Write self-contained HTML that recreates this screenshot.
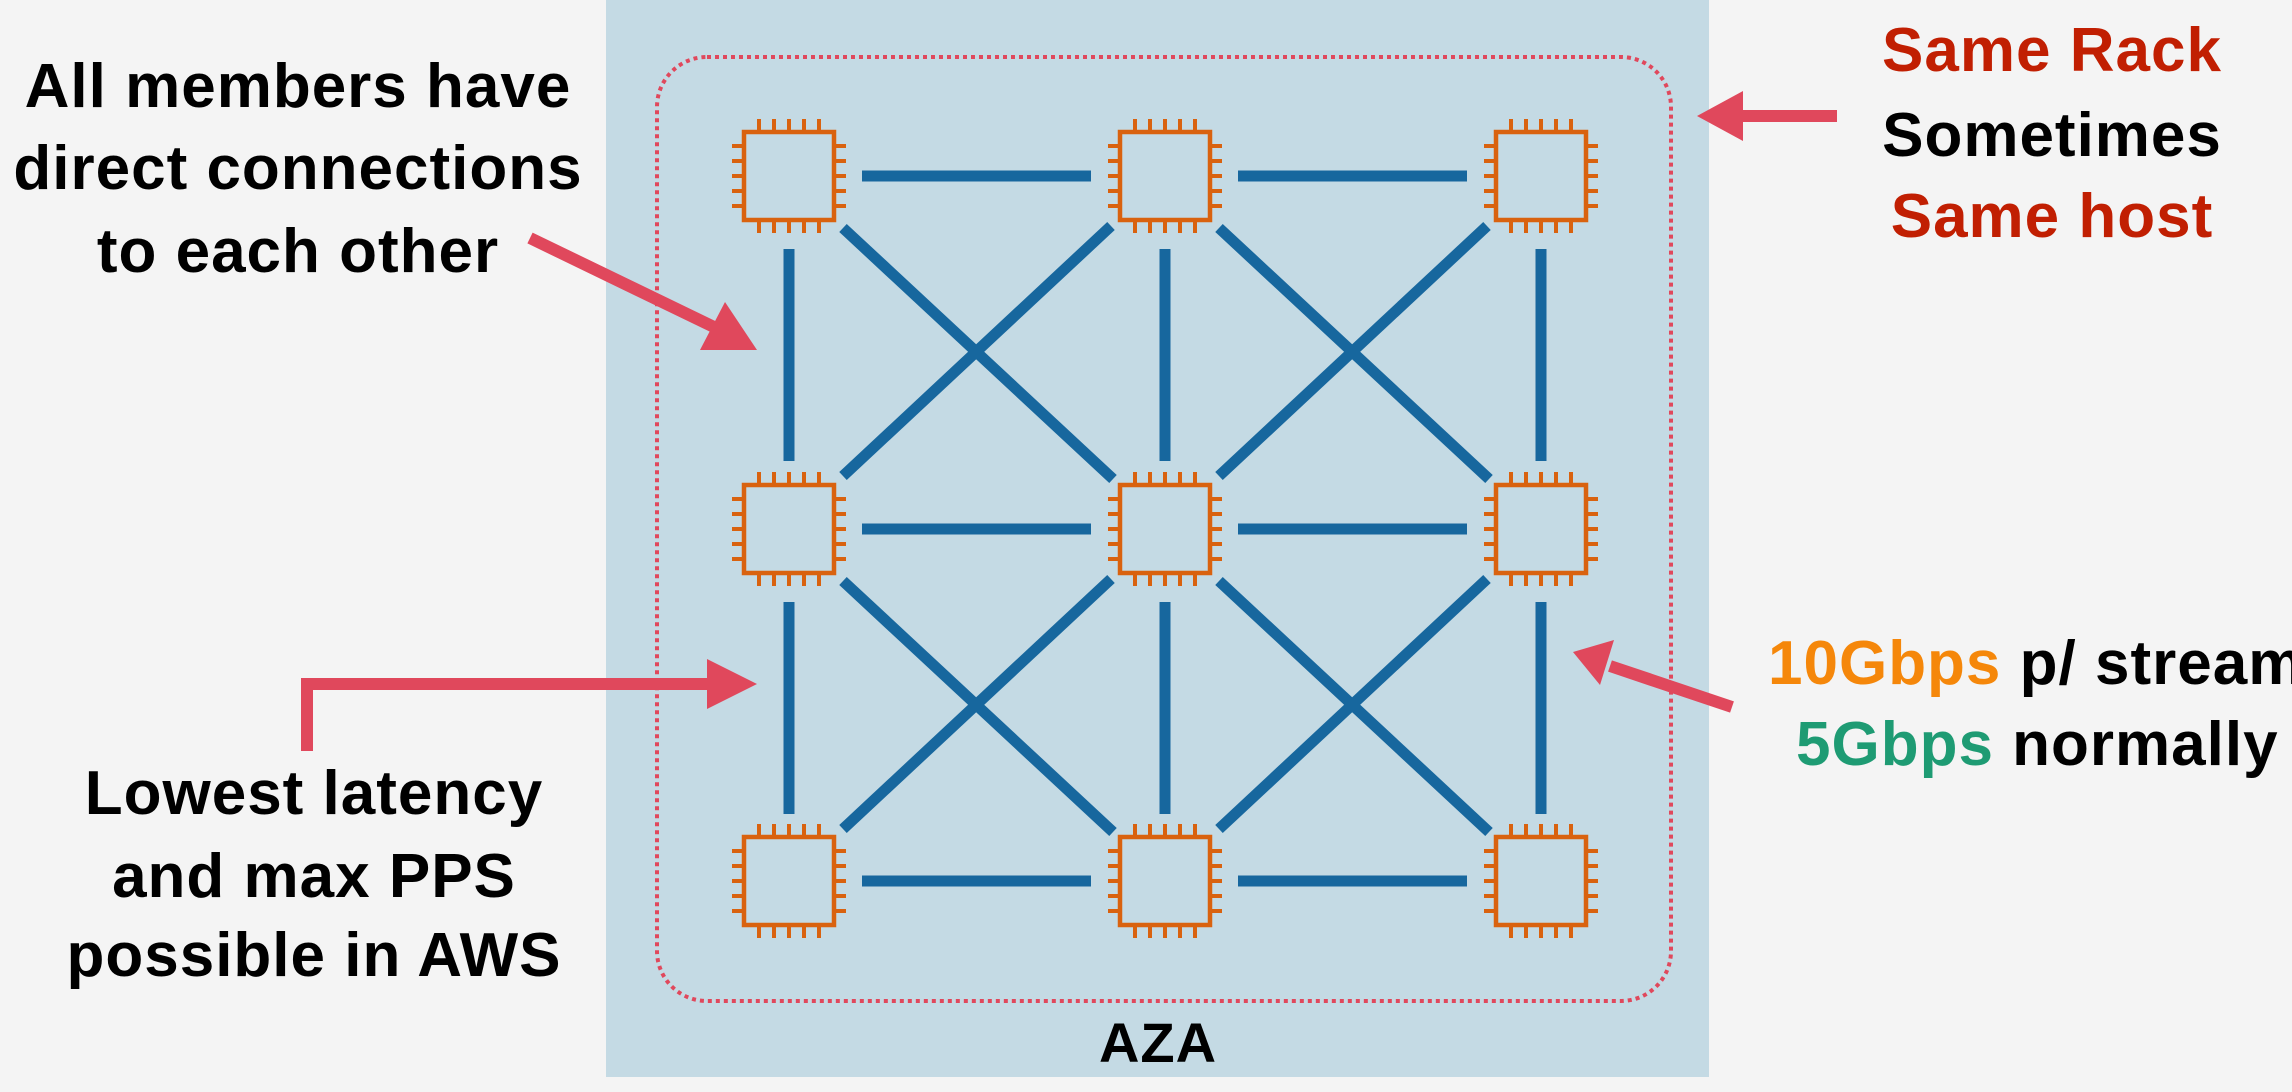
<!DOCTYPE html>
<html><head><meta charset="utf-8"><style>
html,body{margin:0;padding:0;background:#f4f4f4;}
svg{display:block;}
text{font-family:"Liberation Sans",sans-serif;font-weight:bold;letter-spacing:1px;}
</style></head><body>
<svg width="2292" height="1092" viewBox="0 0 2292 1092" xmlns="http://www.w3.org/2000/svg">
<rect x="0" y="0" width="2292" height="1092" fill="#f4f4f4"/>
<rect x="606" y="0" width="1103" height="1077" fill="#c4dae4"/>
<rect x="657" y="57" width="1014" height="944" rx="50" ry="50" fill="none" stroke="#e0485c" stroke-width="4" stroke-dasharray="4 4"/>
<defs>
<g id="chip">
<rect x="-45" y="-44" width="90" height="88" fill="none" stroke="#d9620f" stroke-width="4.5"/>
<g stroke="#d9620f" stroke-width="4">
<path d="M-30,-44V-57M-15,-44V-57M0,-44V-57M15,-44V-57M30,-44V-57"/>
<path d="M-30,44V57M-15,44V57M0,44V57M15,44V57M30,44V57"/>
<path d="M-45,-30H-57M-45,-15H-57M-45,0H-57M-45,15H-57M-45,30H-57"/>
<path d="M45,-30H57M45,-15H57M45,0H57M45,15H57M45,30H57"/>
</g>
</g>
</defs>
<g stroke="#17679e" stroke-width="11" fill="none">
<path d="M862,176H1091M1238,176H1467M862,529H1091M1238,529H1467M862,881H1091M1238,881H1467"/>
<path d="M789,249V461M1165,249V461M1541,249V461M789,602V814M1165,602V814M1541,602V814"/>
<path d="M843,228L1113,479M1111,226L843,476M1219,228L1489,479M1487,226L1219,476"/>
<path d="M843,581L1113,832M1111,579L843,829M1219,581L1489,832M1487,579L1219,829"/>
</g>
<use href="#chip" x="789" y="176"/><use href="#chip" x="1165" y="176"/><use href="#chip" x="1541" y="176"/>
<use href="#chip" x="789" y="529"/><use href="#chip" x="1165" y="529"/><use href="#chip" x="1541" y="529"/>
<use href="#chip" x="789" y="881"/><use href="#chip" x="1165" y="881"/><use href="#chip" x="1541" y="881"/>
<g fill="#e0485c" stroke="none">
<path d="M307,751V684H712" stroke="#e0485c" stroke-width="12" fill="none"/>
<polygon points="757,684 707,659 707,709"/>
<line x1="530" y1="238" x2="716" y2="328" stroke="#e0485c" stroke-width="12"/>
<polygon points="757,350 700,350 725,302"/>
<line x1="1837" y1="116" x2="1738" y2="116" stroke="#e0485c" stroke-width="12"/>
<polygon points="1697,116 1743,91 1743,141"/>
<line x1="1732" y1="707" x2="1610" y2="666" stroke="#e0485c" stroke-width="12"/>
<polygon points="1573,652 1614,640 1600,685"/>
</g>
<g font-size="62" text-anchor="middle" fill="#000">
<text x="298" y="107">All members have</text>
<text x="298" y="189">direct connections</text>
<text x="298" y="272">to each other</text>
<text x="314" y="814">Lowest latency</text>
<text x="314" y="897">and max PPS</text>
<text x="314" y="976">possible in AWS</text>
<text x="2052" y="71" fill="#c11f02">Same Rack</text>
<text x="2052" y="156">Sometimes</text>
<text x="2052" y="237" fill="#c11f02">Same host</text>
</g>
<text x="1768" y="684" font-size="62"><tspan fill="#f5870a">10Gbps</tspan> p/ stream</text>
<text x="1796" y="765" font-size="62"><tspan fill="#1e9b73">5Gbps</tspan> normally</text>
<text x="1158" y="1062" font-size="56" text-anchor="middle">AZA</text>
</svg>
</body></html>
